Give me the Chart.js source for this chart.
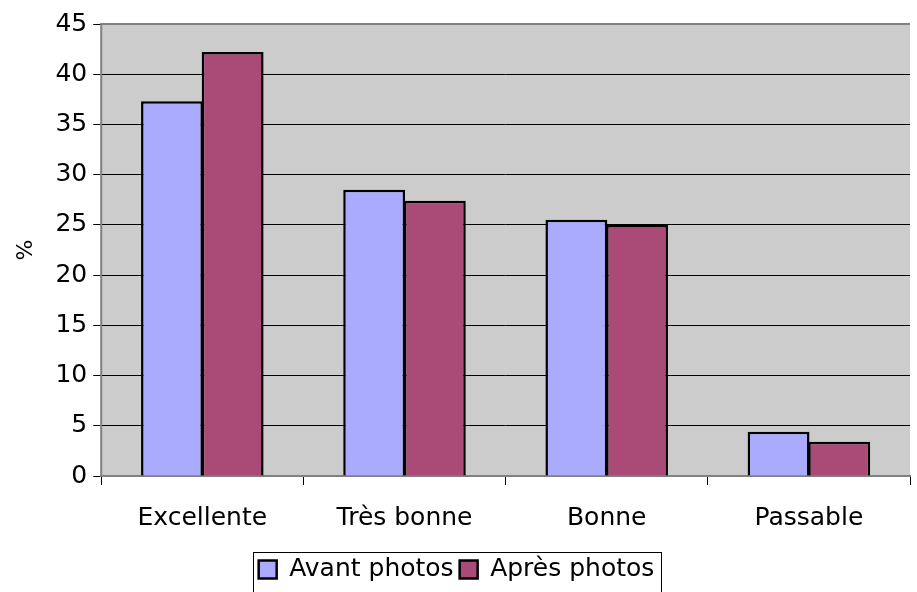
<!DOCTYPE html>
<html>
<head>
<meta charset="utf-8">
<script src="https://cdn.jsdelivr.net/npm/chart.js@4/dist/chart.umd.min.js"></script>
<style>
  html, body { margin: 0; padding: 0; background: #fff; }
  #wrap { width: 917px; height: 592px; }
</style>
</head>
<body>
<div id="wrap"><canvas id="graph"></canvas></div>
<script>
const categories = ['Excellente', 'Très bonne', 'Bonne', 'Passable'];
const avantPhotos = [37.3, 28.5, 25.5, 4.4];
const apresPhotos = [42.2, 27.4, 25.0, 3.4];
const yTicks = [0, 5, 10, 15, 20, 25, 30, 35, 40, 45];

Chart.defaults.font.family = '"DejaVu Sans", Verdana, sans-serif';
Chart.defaults.font.size = 25;
Chart.defaults.color = '#000';

// fond gris de la zone de tracé + cadre de la légende
const decor = {
    id: 'decor',
    beforeDraw(chart) {
        const a = chart.chartArea, c = chart.ctx;
        c.save();
        c.fillStyle = '#cccccc';
        c.fillRect(a.left, a.top, a.right - a.left, a.bottom - a.top);
        c.restore();
    },
    afterDraw(chart) {
        const c = chart.ctx, a = chart.chartArea, lg = chart.legend;
        c.save();
        c.strokeStyle = '#808080';
        c.lineWidth = 2;
        c.beginPath();
        c.moveTo(a.left, a.bottom);
        c.lineTo(a.left, a.top);
        c.lineTo(a.right, a.top);
        c.stroke();
        const boxes = lg.legendHitBoxes;
        if (boxes && boxes.length) {
            const l = Math.min(...boxes.map(b => b.left)) - 6;
            const r = Math.max(...boxes.map(b => b.left + b.width)) + 6;
            const t = Math.min(...boxes.map(b => b.top)) - 5;
            c.strokeStyle = '#000';
            c.lineWidth = 1;
            c.strokeRect(Math.round(l) + 0.5, Math.round(t) + 0.5, Math.round(r - l), 60);
        }
        c.restore();
    }
};

new Chart(document.getElementById('graph'), {
    type: 'bar',
    data: {
        labels: categories,
        datasets: [{
            label: 'Avant photos',
            data: avantPhotos,
            backgroundColor: '#aaaaff',
            borderColor: '#000',
            borderWidth: 2.5
        },
        {
            label: 'Après photos',
            data: apresPhotos,
            backgroundColor: '#aa4a77',
            borderColor: '#000',
            borderWidth: 2.5
        }]
    },
    options: {
        responsive: true,
        maintainAspectRatio: false,
        animation: false,
        datasets: { bar: { categoryPercentage: 0.6, barPercentage: 1.02 } },
        layout: { padding: { top: 24, right: 7, left: 3, bottom: 0 } },
        plugins: {
            tooltip: { enabled: false },
            legend: {
                position: 'bottom',
                labels: {
                    boxWidth: 18,
                    boxHeight: 18,
                    padding: 6,
                    color: '#000',
                    font: { size: 25 }
                }
            }
        },
        scales: {
            x: {
                grid: {
                    offset: true,
                    drawOnChartArea: false,
                    drawTicks: true,
                    tickLength: 9,
                    color: '#000'
                },
                border: { color: '#808080', width: 2 },
                ticks: { padding: 18, color: '#000' }
            },
            y: {
                min: 0,
                max: 45,
                afterBuildTicks: (axis) => { axis.ticks = yTicks.map(v => ({ value: v })); },
                grid: { color: '#000', lineWidth: 1, tickLength: 8 },
                border: { display: false },
                ticks: { padding: 6, color: '#000' },
                title: { display: true, text: '%', color: '#000', font: { size: 22 }, padding: 10 }
            }
        }
    },
    plugins: [decor]
});
</script>
</body>
</html>
